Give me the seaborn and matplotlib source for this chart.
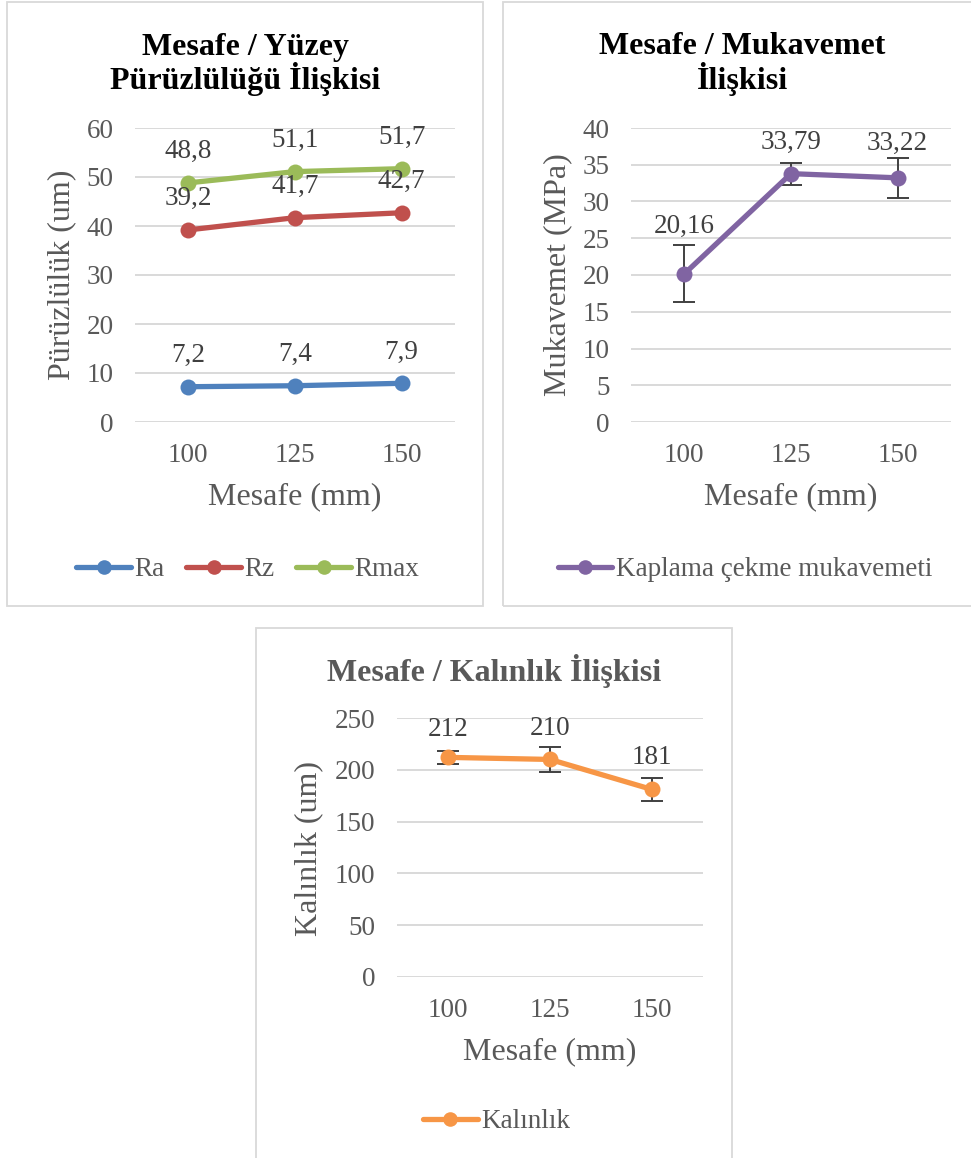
import matplotlib
matplotlib.use("Agg")
import matplotlib.pyplot as plt
from matplotlib.patches import Rectangle
import seaborn as sns
import pandas as pd

# ---- data ----
mesafe = ["100", "125", "150"]

ra = [7.2, 7.4, 7.9]
rz = [39.2, 41.7, 42.7]
rmax = [48.8, 51.1, 51.7]

mukavemet = [20.16, 33.79, 33.22]
mukavemet_err = [3.9, 1.5, 2.7]

kalinlik = [212, 210, 181]
kalinlik_err = [6, 12, 11]

# ---- style ----
sns.set_theme(style="white")
plt.rcParams["font.family"] = ["Liberation Serif", "DejaVu Serif"]

W, H = 971, 1158
fig = plt.figure(figsize=(W / 100, H / 100), dpi=100)
fig.patch.set_facecolor("white")

GRID = "#d9d9d9"
TXT = "#595959"
LBL = "#404040"
TICK_FS = 19.5
TITLE_FS = 23
AXLBL_FS = 23


def fx(px):
    return px / W


def fy(py):
    return 1 - py / H


def frame(x0, y0, x1, y1):
    fig.add_artist(Rectangle((fx(x0), fy(y1)), fx(x1 - x0), (y1 - y0) / H,
                             transform=fig.transFigure, fill=False,
                             ec=GRID, lw=1.3))


def make_axes(x0, y0, x1, y1, ymax, step):
    ax = fig.add_axes([fx(x0), fy(y1), fx(x1 - x0), (y1 - y0) / H])
    ax.set_xlim(-0.5, 2.5)
    ax.set_ylim(0, ymax)
    ax.set_yticks(range(0, ymax + 1, step))
    ax.set_xticks(range(len(mesafe)))
    ax.set_xticklabels(mesafe)
    for s in ax.spines.values():
        s.set_visible(False)
    ax.yaxis.grid(True, color=GRID, lw=1.4)
    ax.xaxis.grid(False)
    ax.set_axisbelow(True)
    ax.tick_params(axis="y", length=0, pad=15.5, labelsize=TICK_FS, labelcolor=TXT)
    ax.tick_params(axis="x", length=0, pad=15, labelsize=TICK_FS, labelcolor=TXT)
    ax.set_facecolor("none")
    return ax


def axis_labels(ax, xlabel, xl_pos, ylabel, yl_pos):
    ax.set_xlabel(xlabel, fontsize=AXLBL_FS, color=TXT)
    ax.xaxis.set_label_coords(fx(xl_pos[0]), fy(xl_pos[1]), transform=fig.transFigure)
    ax.xaxis.label.set_va("center")
    ax.set_ylabel(ylabel, fontsize=AXLBL_FS, color=TXT)
    ax.yaxis.set_label_coords(fx(yl_pos[0]), fy(yl_pos[1]), transform=fig.transFigure)
    ax.yaxis.label.set_va("center")


def series(ax, values, color, name):
    df = pd.DataFrame({"x": range(len(values)), "y": values})
    sns.lineplot(data=df, x="x", y="y", ax=ax, color=color, lw=3.8,
                 marker="o", markersize=11.5, markeredgecolor=color,
                 markeredgewidth=0, label=name, zorder=3)


def value_labels(ax, values, fmt, offsets):
    for i, (v, off) in enumerate(zip(values, offsets)):
        ax.annotate(fmt(v), (i, v), xytext=(0, off), textcoords="offset points",
                    ha="center", va="center", fontsize=TICK_FS, color=LBL)


def legend(ax, cx, cy, ncol):
    leg = ax.legend(loc="center", bbox_to_anchor=(fx(cx), fy(cy)),
                    bbox_transform=fig.transFigure, ncol=ncol, frameon=False,
                    fontsize=TICK_FS, handlelength=2.0, handletextpad=0.15,
                    columnspacing=0.8, borderaxespad=0, borderpad=0)
    for line in leg.get_lines():
        line.set_markersize(10.5)
    for t in leg.get_texts():
        t.set_color(TXT)


def comma1(v):
    return f"{v:.1f}".replace(".", ",")


def comma2(v):
    return f"{v:.2f}".replace(".", ",")


# ---- panel frames ----
frame(7, 2, 483, 606)
frame(503, 2, 972, 606)
frame(256, 628, 732, 1162)

# ---- Mesafe / Yüzey Pürüzlülüğü ----
ax1 = make_axes(135, 128, 455, 422, 60, 10)
series(ax1, ra, "#4f81bd", "Ra")
series(ax1, rz, "#c0504d", "Rz")
series(ax1, rmax, "#9bbb59", "Rmax")
for vals in (ra, rz, rmax):
    value_labels(ax1, vals, comma1, [22.5, 22.5, 22.5])
axis_labels(ax1, "Mesafe (mm)", (295, 497), "Pürüzlülük (um)", (62, 275))
fig.text(fx(245), fy(64), "Mesafe / Yüzey\nPürüzlülüğü İlişkisi", ha="center",
         va="center", fontsize=TITLE_FS, fontweight="bold", color="black",
         linespacing=1.0)
legend(ax1, 248, 570, 3)

# ---- Mesafe / Mukavemet ----
ax2 = make_axes(631, 128, 951, 422, 40, 5)
ax2.errorbar(range(3), mukavemet, yerr=mukavemet_err, fmt="none",
             ecolor=LBL, elinewidth=1.4, capsize=8, capthick=1.4, zorder=2)
series(ax2, mukavemet, "#8064a2", "Kaplama çekme mukavemeti")
value_labels(ax2, mukavemet, comma2, [34, 22.5, 25])
axis_labels(ax2, "Mesafe (mm)", (791, 497), "Mukavemet (MPa)", (558, 275))
fig.text(fx(742), fy(64), "Mesafe / Mukavemet\nİlişkisi", ha="center",
         va="center", fontsize=TITLE_FS, fontweight="bold", color="black",
         linespacing=1.0)
legend(ax2, 745, 570, 1)

# ---- Mesafe / Kalınlık ----
ax3 = make_axes(397, 718, 703, 977, 250, 50)
ax3.errorbar(range(3), kalinlik, yerr=kalinlik_err, fmt="none",
             ecolor=LBL, elinewidth=1.4, capsize=8, capthick=1.4, zorder=2)
series(ax3, kalinlik, "#f79646", "Kalınlık")
value_labels(ax3, kalinlik, lambda v: f"{v:d}", [20, 22, 23])
axis_labels(ax3, "Mesafe (mm)", (550, 1052), "Kalınlık (um)", (309, 848))
fig.text(fx(494), fy(671), "Mesafe / Kalınlık İlişkisi", ha="center",
         va="center", fontsize=TITLE_FS, fontweight="bold", color=TXT)
legend(ax3, 497, 1122, 1)

fig.savefig("out.png", dpi=100, facecolor="white")
